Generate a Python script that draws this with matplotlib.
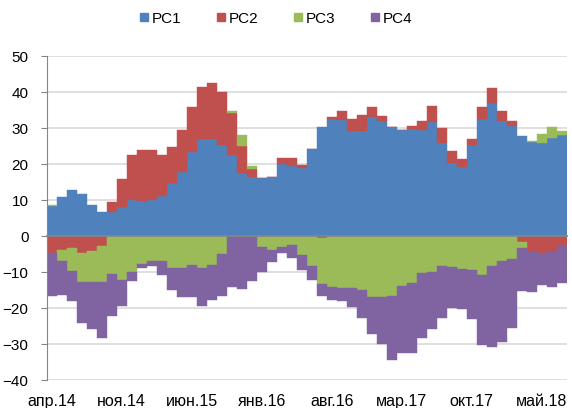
import numpy as np
import matplotlib
matplotlib.use('Agg')
import matplotlib.pyplot as plt
from matplotlib.lines import Line2D

plt.rcParams['font.family'] = ['Liberation Sans', 'DejaVu Sans']

# monthly values, apr.14 .. jul.18
pc1 = [8.4, 10.9, 12.7, 11.6, 8.5, 6.6, 6.7, 8.1, 10.0, 9.6, 10.1, 11.1, 14.8,
       17.9, 23.2, 26.9, 27.0, 25.4, 22.4, 17.5, 16.4, 16.2, 16.5, 19.9, 19.4, 18.8,
       24.1, 30.2, 32.4, 32.3, 29.1, 29.3, 33.1, 32.0, 30.4, 29.5, 29.6, 29.5, 31.8,
       25.8, 20.3, 19.2, 25.3, 32.5, 36.9, 31.9, 30.6, 27.9, 26.1, 25.9, 27.1, 28.0]
pc2 = [-4.6, -3.9, -3.2, -4.8, -4.2, -2.9, 2.7, 7.6, 12.6, 14.4, 13.7, 11.3, 10.0,
       11.5, 12.7, 14.5, 15.6, 14.7, 11.7, 7.5, 2.2, 0.0, 0.0, 1.9, 2.2, 0.9,
       0.2, -0.6, 0.6, 2.4, 3.5, 4.4, 2.7, 1.2, 0.0, 0.0, 0.9, 2.4, 4.3,
       4.1, 3.2, 2.1, 1.6, 3.3, 4.3, 2.9, 1.3, -1.8, -4.5, -4.8, -4.4, -2.7]
pc3 = [0.2, -3.0, -6.5, -8.1, -8.5, -9.9, -10.6, -12.2, -10.0, -7.8, -6.9, -6.9, -9.0,
       -8.8, -8.1, -8.8, -8.0, -5.1, 0.7, 3.0, 0.8, -3.0, -3.8, -3.1, -2.4, -5.3,
       -8.3, -12.6, -14.2, -14.4, -14.4, -15.0, -16.9, -17.0, -16.8, -13.8, -13.0, -10.3, -10.0,
       -8.4, -8.6, -9.3, -9.5, -10.7, -8.4, -7.0, -6.3, -1.5, 0.2, 2.5, 3.1, 1.3]
pc4 = [-12.1, -9.5, -8.3, -11.3, -13.2, -15.5, -11.7, -7.2, -2.6, -1.0, -1.4, -3.9, -6.1,
       -8.1, -8.9, -10.6, -9.9, -11.7, -14.2, -14.8, -12.5, -7.0, -3.3, -1.7, -3.6, -4.1,
       -3.9, -3.6, -3.6, -3.6, -5.4, -7.8, -10.2, -13.0, -17.7, -18.6, -19.4, -18.1, -15.9,
       -14.3, -11.3, -10.9, -13.6, -19.7, -22.4, -22.4, -19.2, -12.0, -11.1, -8.7, -9.8, -10.3]

names = ['PC1', 'PC2', 'PC3', 'PC4']
colors = ['#4F81BD', '#C0504D', '#9BBB59', '#8064A2']
tick_labels = ['апр.14', 'ноя.14', 'июн.15', 'янв.16', 'авг.16', 'мар.17', 'окт.17', 'май.18']

fig = plt.figure(figsize=(5.72, 4.08), dpi=100)
ax = fig.add_axes([0.0816, 0.0686, 0.9091, 0.7941])

x = np.arange(len(pc1))
pos = np.zeros(len(x))
neg = np.zeros(len(x))
for vals, c in zip([pc1, pc2, pc3, pc4], colors):
    v = np.array(vals)
    base = np.where(v >= 0, pos, neg)
    ax.bar(x, v, width=1.0, bottom=base, color=c, edgecolor=c, linewidth=0.3, zorder=1)
    pos = pos + np.where(v >= 0, v, 0)
    neg = neg + np.where(v < 0, v, 0)

ax.set_xlim(-0.5, len(x) - 0.5)
ax.set_ylim(-40, 50)
ax.set_yticks(range(-40, 51, 10))
ax.yaxis.grid(True, color='#d9d9d9', linewidth=1.2)
ax.set_axisbelow(True)

for s in ['top', 'right']:
    ax.spines[s].set_visible(False)
ax.spines['left'].set_color('#868686')
ax.spines['bottom'].set_position(('data', 0))
ax.spines['bottom'].set_color('#868686')
ax.spines['bottom'].set_linewidth(1.3)
ax.set_xticks(np.arange(-0.5, len(x), 7))
ax.tick_params(axis='x', length=4, color='#868686', labelbottom=False)
ax.tick_params(axis='y', length=4, color='#868686', labelsize=11, pad=9)

sec = ax.secondary_xaxis(0)
sec.set_xticks(np.arange(0, len(x), 7))
sec.set_xticklabels(tick_labels, fontsize=11.5)
sec.tick_params(length=0, pad=10)
sec.spines['bottom'].set_visible(False)

handles = [Line2D([], [], marker='s', linestyle='none', markersize=6,
                  markerfacecolor=c, markeredgecolor=c) for c in colors]
fig.legend(handles, names, loc='center', bbox_to_anchor=(0.482, 0.954), ncol=4,
           frameon=False, fontsize=11, handlelength=0.6, handletextpad=0.2,
           columnspacing=2.3)

fig.savefig('out.png', dpi=100)
